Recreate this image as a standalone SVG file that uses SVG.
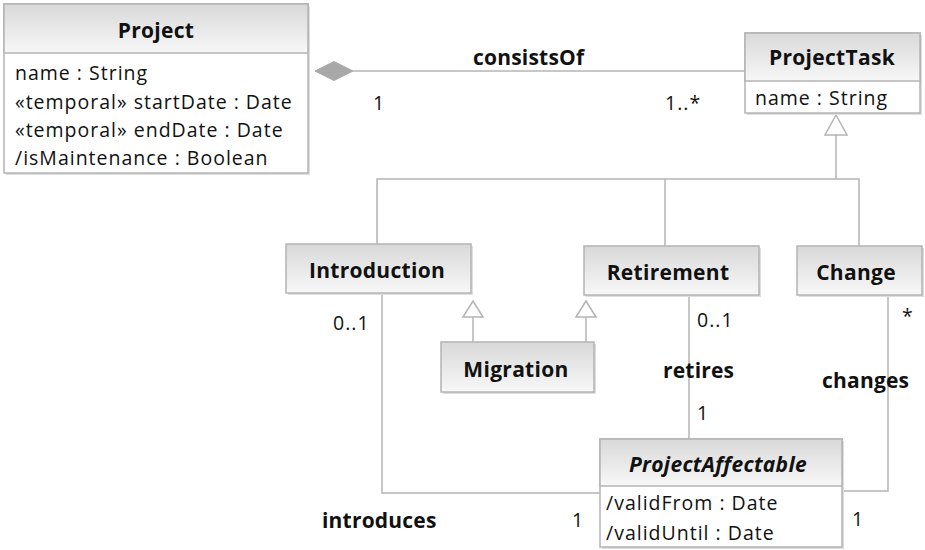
<svg xmlns="http://www.w3.org/2000/svg" width="925" height="550" viewBox="0 0 925 550">
  <defs>
    <linearGradient id="hdr" x1="0" y1="0" x2="0" y2="1">
      <stop offset="0" stop-color="#d9d9d9"/>
      <stop offset="1" stop-color="#f7f7f7"/>
    </linearGradient>
  </defs>
  <style>
    .shadow { fill: #dedede; }
    .box { fill: #ffffff; stroke: #b4b4b4; stroke-width: 1.5; }
    .head { fill: url(#hdr); stroke: #b4b4b4; stroke-width: 1.5; }
    .title { font-family: "Open Sans", "DejaVu Sans", sans-serif; font-weight: bold; font-size: 21px; letter-spacing: 0.3px; fill: #111; text-anchor: middle; }
    .attr { font-family: "Open Sans", "DejaVu Sans", sans-serif; font-size: 19.5px; letter-spacing: 1px; fill: #111; }
    .lbl { font-family: "Open Sans", "DejaVu Sans", sans-serif; font-weight: bold; font-size: 21px; letter-spacing: 0.2px; fill: #111; }
    .mult { font-family: "Open Sans", "DejaVu Sans", sans-serif; font-size: 19.5px; letter-spacing: 1px; fill: #111; }
    .edge { fill: none; stroke: #b4b4b4; stroke-width: 1.5; }
    .tri { fill: #ffffff; stroke: #b4b4b4; stroke-width: 1.5; }
    .dia { fill: #a8a8a8; stroke: #a8a8a8; stroke-width: 1; }
  </style>

  <!-- connectors -->
  <g id="connectors">
    <!-- consistsOf composition -->
    <line class="edge" x1="353" y1="71" x2="745" y2="71"/>
    <polygon class="dia" points="315,71 334,61.5 353,71 334,80.5"/>
    <!-- generalization tree to ProjectTask -->
    <polyline class="edge" points="836,135 836,179"/>
    <polyline class="edge" points="377,244 377,179 859,179 859,246"/>
    <line class="edge" x1="665" y1="179" x2="665" y2="246"/>
    <polygon class="tri" points="836,115 847,135 825,135"/>
    <!-- Migration generalizations -->
    <line class="edge" x1="473" y1="317" x2="473" y2="342"/>
    <polygon class="tri" points="473,301 483,317 463,317"/>
    <line class="edge" x1="586" y1="317" x2="586" y2="342"/>
    <polygon class="tri" points="586,301 596,317 576,317"/>
    <!-- introduces -->
    <polyline class="edge" points="382,293 382,493 600,493"/>
    <!-- retires -->
    <line class="edge" x1="689" y1="295" x2="689" y2="439"/>
    <!-- changes -->
    <polyline class="edge" points="888,295 888,491 842,491"/>
  </g>

  <!-- connector labels -->
  <g id="labels">
    <text class="lbl" x="473" y="65">consistsOf</text>
    <text class="mult" x="373" y="110">1</text>
    <text class="mult" x="665" y="110">1..*</text>
    <text class="mult" x="333" y="330">0..1</text>
    <text class="mult" x="697" y="327">0..1</text>
    <text class="lbl" x="663" y="378">retires</text>
    <text class="mult" x="697" y="420">1</text>
    <text class="mult" x="902" y="323">*</text>
    <text class="lbl" x="822" y="388">changes</text>
    <text class="lbl" x="322" y="528">introduces</text>
    <text class="mult" x="572" y="527">1</text>
    <text class="mult" x="852" y="526">1</text>
  </g>

  <!-- Project -->
  <g id="Project">
    <rect class="shadow" x="6" y="6" width="304" height="169"/>
    <rect class="box" x="4" y="4" width="304" height="169"/>
    <rect class="head" x="4" y="4" width="304" height="49"/>
    <text class="title" x="156" y="38">Project</text>
    <text class="attr" x="15" y="80">name : String</text>
    <text class="attr" x="15" y="108.5">«temporal» startDate : Date</text>
    <text class="attr" x="15" y="137">«temporal» endDate : Date</text>
    <text class="attr" x="15" y="165">/isMaintenance : Boolean</text>
  </g>

  <!-- ProjectTask -->
  <g id="ProjectTask">
    <rect class="shadow" x="747" y="35" width="175" height="80"/>
    <rect class="box" x="745" y="33" width="175" height="80"/>
    <rect class="head" x="745" y="33" width="175" height="48"/>
    <text class="title" x="832" y="65">ProjectTask</text>
    <text class="attr" x="755" y="105">name : String</text>
  </g>

  <!-- Introduction -->
  <g id="Introduction">
    <rect class="shadow" x="288" y="246" width="185" height="49"/>
    <rect class="head" x="286" y="244" width="185" height="49"/>
    <text class="title" x="377" y="278">Introduction</text>
  </g>

  <!-- Retirement -->
  <g id="Retirement">
    <rect class="shadow" x="586" y="248" width="175" height="49"/>
    <rect class="head" x="584" y="246" width="175" height="49"/>
    <text class="title" x="668" y="280" letter-spacing="0.6">Retirement</text>
  </g>

  <!-- Change -->
  <g id="Change">
    <rect class="shadow" x="799" y="248" width="125" height="49"/>
    <rect class="head" x="797" y="246" width="125" height="49"/>
    <text class="title" x="856" y="280">Change</text>
  </g>

  <!-- Migration -->
  <g id="Migration">
    <rect class="shadow" x="443" y="344" width="153" height="50"/>
    <rect class="head" x="441" y="342" width="153" height="50"/>
    <text class="title" x="516" y="377">Migration</text>
  </g>

  <!-- ProjectAffectable (abstract) -->
  <g id="ProjectAffectable">
    <rect class="shadow" x="602" y="441" width="242" height="108"/>
    <rect class="box" x="600" y="439" width="242" height="108"/>
    <rect class="head" x="600" y="439" width="242" height="47"/>
    <text class="title" x="718" y="472" font-style="italic" letter-spacing="1">ProjectAffectable</text>
    <text class="attr" x="606" y="510">/validFrom : Date</text>
    <text class="attr" x="606" y="540">/validUntil : Date</text>
  </g>
</svg>
